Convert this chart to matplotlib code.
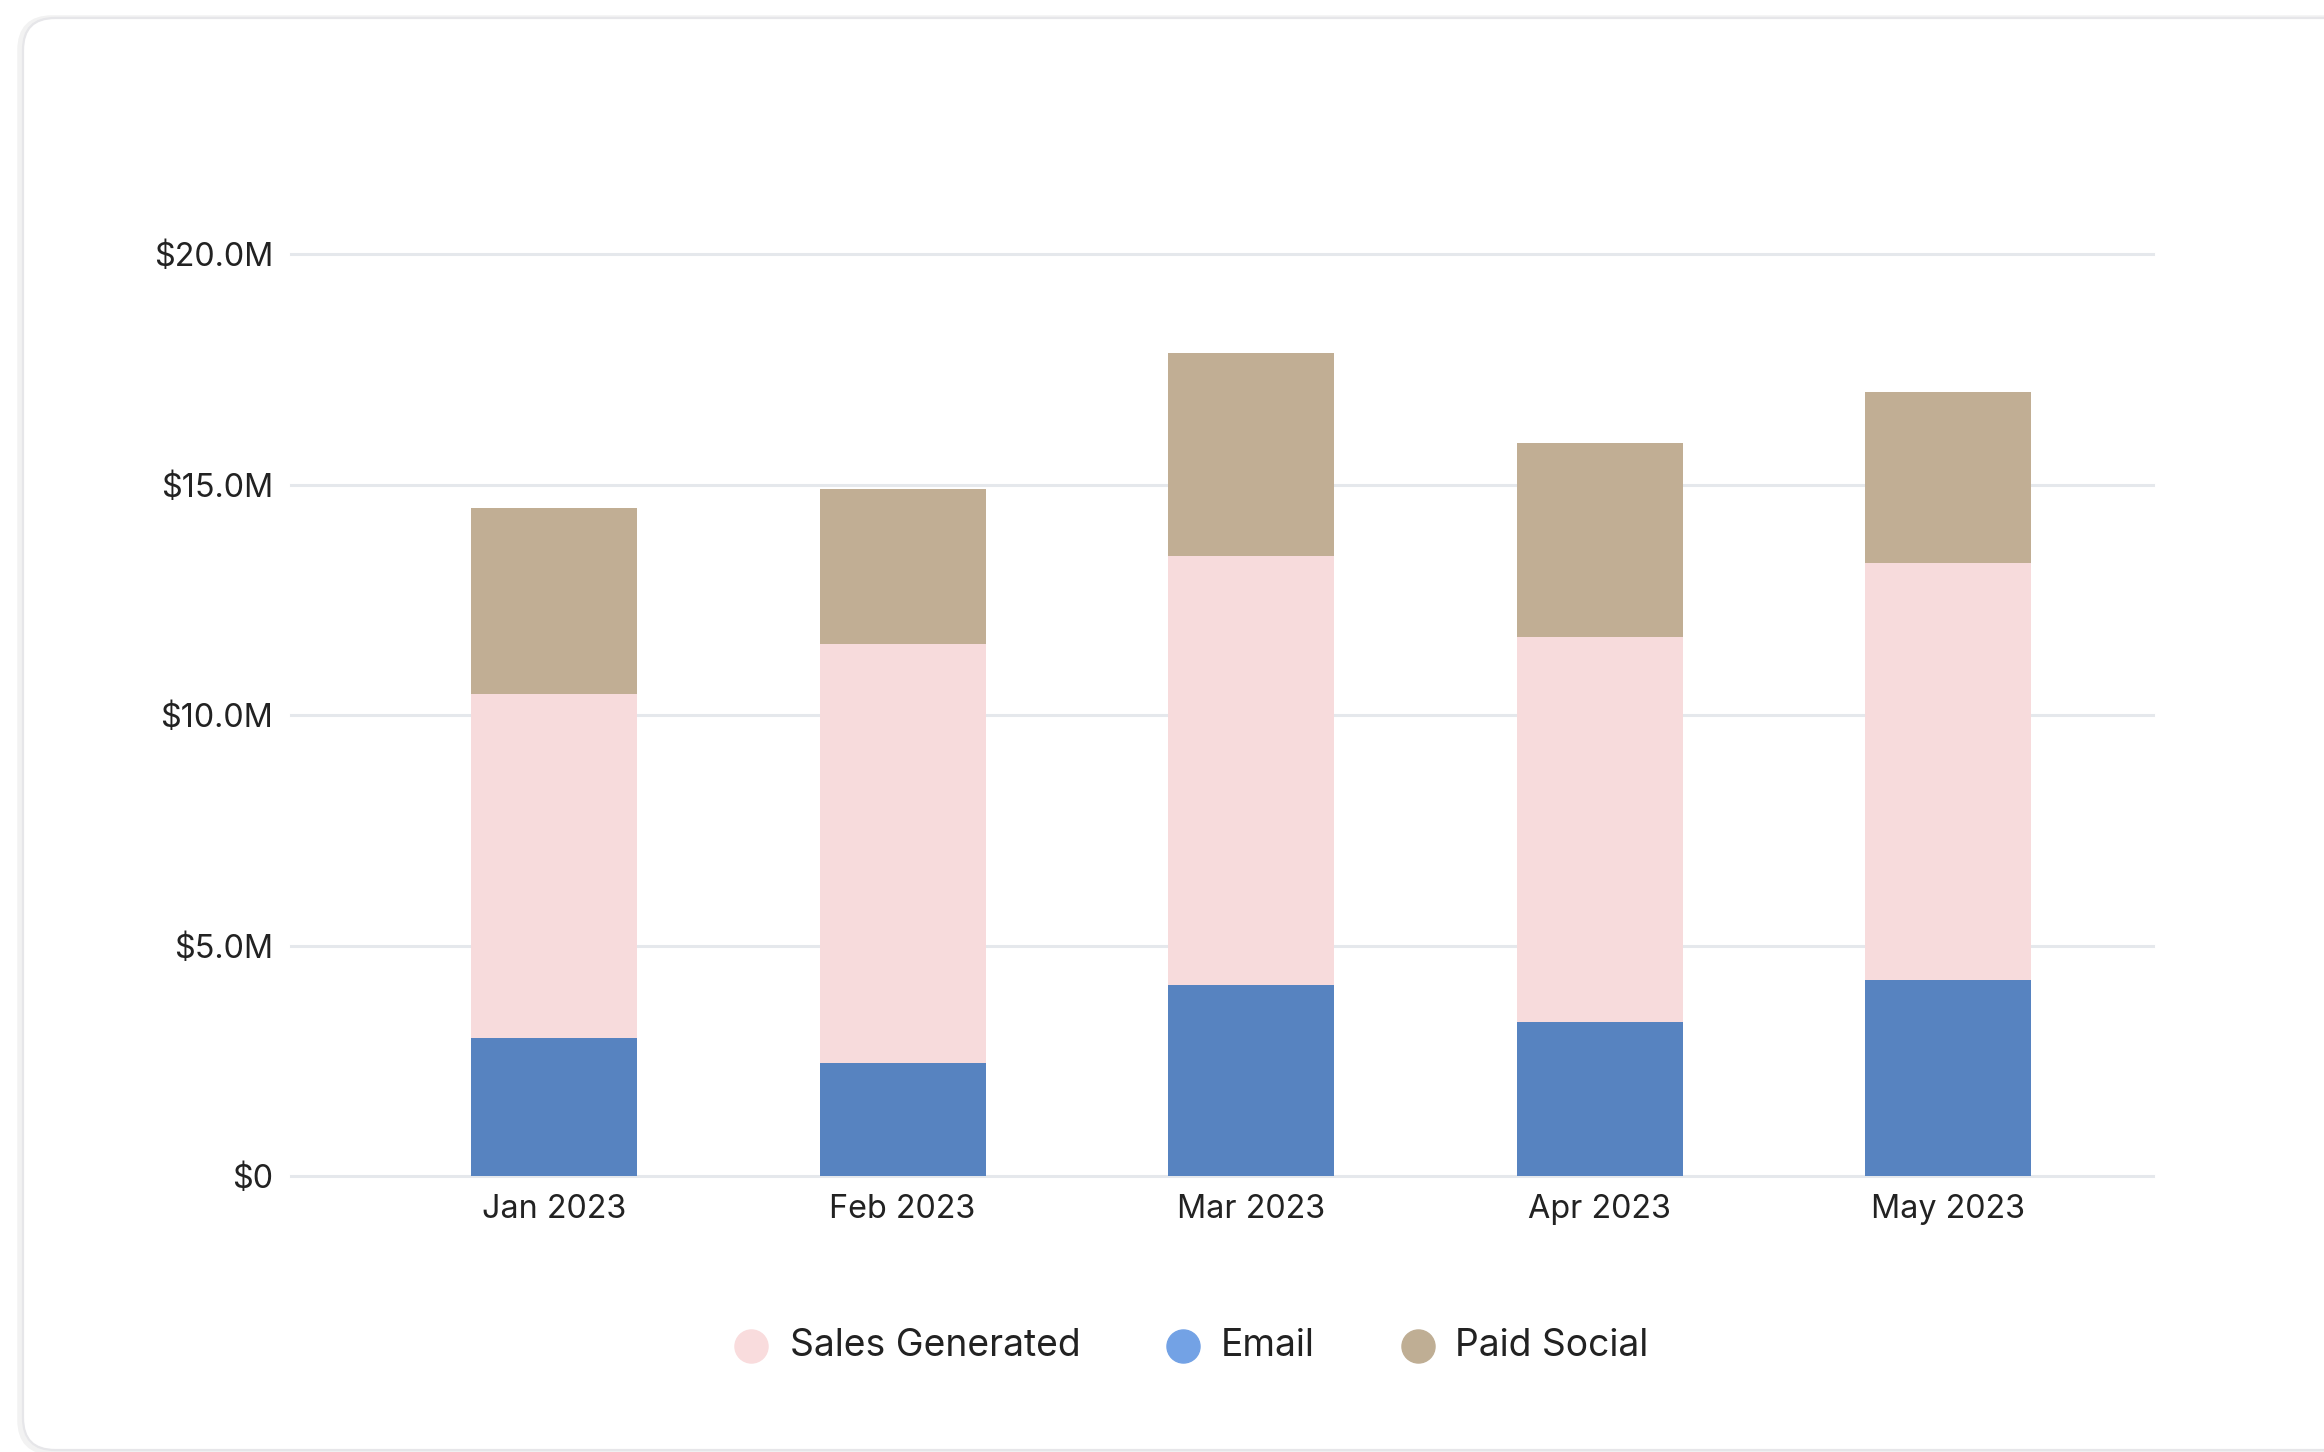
import matplotlib.pyplot as plt
import matplotlib.transforms as mtransforms
import numpy as np
from matplotlib.lines import Line2D
from matplotlib.patches import FancyBboxPatch
from matplotlib.ticker import FuncFormatter

# Monthly revenue by channel, in $M
months = ['Jan 2023', 'Feb 2023', 'Mar 2023', 'Apr 2023', 'May 2023']
email = [3.0, 2.45, 4.15, 3.35, 4.25]
sales_generated = [7.45, 9.1, 9.3, 8.35, 9.05]
paid_social = [4.05, 3.35, 4.4, 4.2, 3.7]

legend_labels = ['Sales Generated', 'Email', 'Paid Social']
legend_colors = ['#F9DCDD', '#73A2E5', '#BFAE94']

plt.rcParams['font.family'] = ['Inter', 'DejaVu Sans']
TEXT = '#222222'

W, H = 2324, 1452
fig = plt.figure(figsize=(W / 100, H / 100), dpi=100)
fig.patch.set_facecolor('white')


def fx(px):
    return px / W


def fy(py):
    return 1 - py / H


# card background with a soft edge
pix = mtransforms.IdentityTransform()
shadow = FancyBboxPatch((20, 0), 2420, 1434, boxstyle='round,pad=0,rounding_size=32',
                        facecolor='none', edgecolor='#000000', alpha=0.05,
                        linewidth=4, transform=pix, zorder=0)
card = FancyBboxPatch((23, 2), 2420, 1432, boxstyle='round,pad=0,rounding_size=32',
                      facecolor='white', edgecolor='#E6E6E9', linewidth=1.6,
                      transform=pix, zorder=0)
fig.add_artist(shadow)
fig.add_artist(card)

ax = fig.add_axes([fx(291), fy(1176), fx(2153) - fx(291), (1176 - 208) / H])
ax.set_facecolor('none')

x = np.arange(len(months))
width = 0.476
bottom2 = np.add(email, sales_generated)

ax.bar(x, email, width, color='#5783C0', linewidth=0, zorder=3)
ax.bar(x, sales_generated, width, bottom=email, color='#F7DBDC', linewidth=0, zorder=3)
ax.bar(x, paid_social, width, bottom=bottom2, color='#C1AE94', linewidth=0, zorder=3)

ax.set_xlim(-0.755, 4.588)
ax.set_ylim(0, 21)
ax.set_xticks(x)
ax.set_xticklabels(months)
ax.set_yticks([0, 5, 10, 15, 20])
ax.yaxis.set_major_formatter(FuncFormatter(lambda v, _: '$0' if v == 0 else f'${v:.1f}M'))

ax.tick_params(axis='both', length=0, labelsize=23.3, labelcolor=TEXT)
ax.tick_params(axis='y', pad=13)
ax.tick_params(axis='x', pad=13)

for s in ax.spines.values():
    s.set_visible(False)

ax.yaxis.grid(True, color='#E5E8EC', linewidth=2.2)
ax.set_axisbelow(True)
for gl in ax.get_ygridlines():
    gl.set_clip_on(False)

# legend row under the chart
legend_marker_x = [751, 1183, 1418]
legend_text_x = [790, 1221, 1455]
for lab, col, mx, tx in zip(legend_labels, legend_colors, legend_marker_x, legend_text_x):
    fig.add_artist(Line2D([fx(mx)], [fy(1346)], marker='o', markersize=23.8,
                          color=col, linestyle='none', transform=fig.transFigure))
    fig.text(fx(tx), fy(1346), lab, fontsize=26.8, color=TEXT, va='center', ha='left')

fig.savefig('out.png', dpi=100)
